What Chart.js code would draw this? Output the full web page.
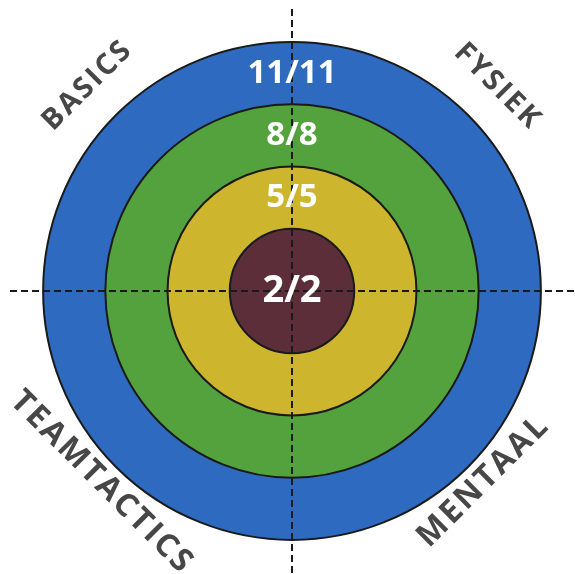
<!DOCTYPE html>
<html><head><meta charset="utf-8">
<script src="https://cdn.jsdelivr.net/npm/chart.js@4"></script>
<style>html,body{margin:0;padding:0;background:#fff;}canvas{display:block;}</style>
</head><body>
<canvas id="c" width="575" height="574"></canvas>
<script>
// ---- data ----
const ringValues = [2, 5, 8, 11];
const ringLabels = ['2/2', '5/5', '8/8', '11/11'];
const ringColors = ['#5c2e39', '#cdb62e', '#54a23d', '#2e6bc0'];
const categories = ['', 'FYSIEK', '', 'MENTAAL', '', 'TEAMTACTICS', '', 'BASICS'];
const scaleMin = -1;
const scaleMax = 12.645;

// label placement: centre of inner disc, middle of each ring otherwise
const labelValues = ringValues.map((v, i) => i === 0 ? scaleMin : (ringValues[i - 1] + v) / 2);
const tickValues = ringValues.concat(labelValues).sort((a, b) => a - b);

const outerLabels = {
  id: 'outerLabels',
  afterDraw(chart) {
    const s = chart.scales.r;
    const ctx = chart.ctx;
    const base = s.getDistanceFromCenterForValue(ringValues[ringValues.length - 1]);
    categories.forEach((text, i) => {
      if (!text) return;
      const theta = s.getIndexAngle(i);
      const top = Math.cos(theta) > 0;
      const p = s.getPointPosition(i, base + (top ? 41 : 21));
      ctx.save();
      ctx.translate(p.x, p.y);
      ctx.rotate(top ? theta : theta - Math.PI);
      ctx.font = top ? 'bold 29px "Open Sans"' : 'bold 32px "Open Sans"';
      ctx.letterSpacing = '2.5px';
      ctx.fillStyle = '#474747';
      ctx.textAlign = 'center';
      ctx.textBaseline = 'middle';
      ctx.fillText(text, 1, 0);
      ctx.restore();
    });
  }
};

new Chart(document.getElementById('c'), {
  type: 'polarArea',
  data: {
    labels: categories,
    datasets: ringValues.map((v, i) => ({
      label: ringLabels[i],
      data: [v],
      backgroundColor: ringColors[i],
      borderWidth: 0,
      angle: 360
    }))
  },
  options: {
    responsive: false,
    animation: false,
    layout: { padding: { left: 10, top: 8, right: 0, bottom: 0 } },
    plugins: { legend: { display: false }, tooltip: { enabled: false } },
    scales: {
      r: {
        min: scaleMin,
        max: scaleMax,
        startAngle: 0,
        afterBuildTicks: (scale) => { scale.ticks = tickValues.map(v => ({ value: v })); },
        grid: {
          z: 1,
          circular: true,
          color: '#1a1a1a',
          lineWidth: (c) => (c.tick && ringValues.includes(c.tick.value)) ? 2 : 0
        },
        angleLines: {
          display: true,
          color: '#1a1a1a',
          lineWidth: (c) => c.index % 2 === 0 ? 2 : 0,
          borderDash: [7, 4]
        },
        pointLabels: { display: false },
        ticks: {
          z: 2,
          display: true,
          showLabelBackdrop: false,
          backdropPadding: { top: -17, bottom: -17, left: 0, right: 0 },
          color: '#ffffff',
          font: (c) => ({ family: 'Open Sans', weight: 'bold', size: (c.tick && c.tick.value === scaleMin) ? 38 : 33 }),
          callback: (value) => {
            const k = labelValues.indexOf(value);
            return k >= 0 ? ringLabels[k] : '';
          }
        }
      }
    }
  },
  plugins: [outerLabels]
});
</script>
</body></html>
